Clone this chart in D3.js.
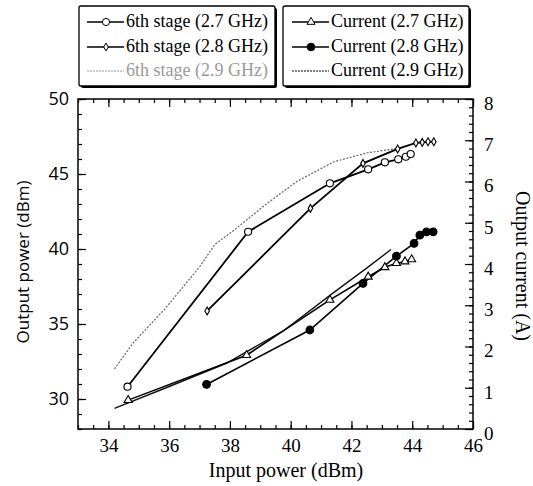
<!DOCTYPE html>
<html>
<head>
<meta charset="utf-8">
<script src="https://cdn.jsdelivr.net/npm/d3@7"></script>
<style>
  body { margin: 0; background: #fff; }
  svg { display: block; }
  text { font-family: "Liberation Serif", "Times New Roman", serif; }
</style>
</head>
<body>
<svg id="chart" width="533" height="486"></svg>
<script>
// DATA
// 6th stage output power (dBm) vs input power (dBm)
var stage27 = [[34.63, 30.82], [38.6, 41.15], [41.29, 44.38], [42.55, 45.31], [43.1, 45.78], [43.54, 45.98], [43.79, 46.15], [43.95, 46.33]];
var stage28 = [[37.25, 35.87], [40.65, 42.71], [42.38, 45.71], [43.52, 46.67], [44.12, 47.07], [44.33, 47.11], [44.52, 47.15], [44.71, 47.15]];
var stage29 = [[34.2, 32.0], [34.8, 33.7], [35.9, 36.1], [37.0, 38.8], [37.5, 40.3], [38.1, 41.2], [39.2, 43.0], [40.2, 44.5], [41.4, 45.8], [42.5, 46.4], [43.5, 46.7]];
// output current (A) vs input power (dBm)
var current27 = [[34.65, 0.70], [38.55, 1.79], [41.29, 3.13], [42.55, 3.69], [43.1, 3.92], [43.48, 4.02], [43.76, 4.06], [43.98, 4.11]];
var current28 = [[37.23, 1.08], [40.63, 2.40], [42.38, 3.53], [43.48, 4.19], [44.06, 4.50], [44.25, 4.70], [44.47, 4.78], [44.69, 4.78]];
var current29 = [[34.2, 0.5], [35.9, 1.0], [37.9, 1.6], [39.8, 2.4], [41.4, 3.3], [42.5, 3.9], [43.3, 4.35]];

// tick labels
var xTicks = [34, 36, 38, 40, 42, 44, 46];
var yLeftTicks = [30, 35, 40, 45, 50];
var yRightTicks = [0, 1, 2, 3, 4, 5, 6, 7, 8];

var legendLeft = ['6th stage (2.7 GHz)', '6th stage (2.8 GHz)', '6th stage (2.9 GHz)'];
var legendRight = ['Current (2.7 GHz)', 'Current (2.8 GHz)', 'Current (2.9 GHz)'];

var svg = d3.select('#chart');

// plot frame (don't call it "top", window.top is read only)
var plotL = 78, plotR = 473, plotT = 99, plotB = 429;

var x = d3.scaleLinear().domain([33, 46]).range([plotL, plotR]);
var yL = d3.scaleLinear().domain([28, 50]).range([plotB, plotT]);
var yR = d3.scaleLinear().domain([0, 8]).range([plotB, plotT]);

// minor ticks
var xMinor = d3.range(33, 46.01, 0.5);
var yLMinor = d3.range(28, 50.01, 1);
var yRMinor = d3.range(0, 8.01, 0.2);

var axes = svg.append('g').attr('class', 'axes');

function styleAxis(g) {
    g.select('.domain').remove();
    g.selectAll('line').attr('stroke', '#000').attr('stroke-width', 1.2);
    g.selectAll('text').attr('fill', '#000');
}

// bottom
axes.append('g').attr('transform', 'translate(0,' + plotB + ')')
    .call(d3.axisBottom(x).tickValues(xMinor).tickSize(-4).tickFormat(''))
    .call(styleAxis);
axes.append('g').attr('transform', 'translate(0,' + plotB + ')')
    .call(d3.axisBottom(x).tickValues(xTicks).tickSize(-8).tickPadding(10).tickFormat(d3.format('d')))
    .call(styleAxis)
    .selectAll('text').style('font-size', '19px').style('font-family', '"Liberation Serif", serif');
// top
axes.append('g').attr('transform', 'translate(0,' + plotT + ')')
    .call(d3.axisTop(x).tickValues(xMinor).tickSize(-4).tickFormat(''))
    .call(styleAxis);
axes.append('g').attr('transform', 'translate(0,' + plotT + ')')
    .call(d3.axisTop(x).tickValues(xTicks).tickSize(-8).tickFormat(''))
    .call(styleAxis);
// left
axes.append('g').attr('transform', 'translate(' + plotL + ',0)')
    .call(d3.axisLeft(yL).tickValues(yLMinor).tickSize(-4).tickFormat(''))
    .call(styleAxis);
axes.append('g').attr('transform', 'translate(' + plotL + ',0)')
    .call(d3.axisLeft(yL).tickValues(yLeftTicks).tickSize(-8).tickPadding(9).tickFormat(d3.format('d')))
    .call(styleAxis)
    .selectAll('text').style('font-size', '18px').style('font-family', '"Open Sans", sans-serif');
// right
axes.append('g').attr('transform', 'translate(' + plotR + ',0)')
    .call(d3.axisRight(yR).tickValues(yRMinor).tickSize(-4).tickFormat(''))
    .call(styleAxis);
axes.append('g').attr('transform', 'translate(' + plotR + ',0)')
    .call(d3.axisRight(yR).tickValues(yRightTicks).tickSize(-8).tickPadding(11).tickFormat(d3.format('d')))
    .call(styleAxis)
    .selectAll('text').style('font-size', '19px').attr('dy', '0.55em');

// frame
svg.append('rect')
    .attr('x', plotL).attr('y', plotT)
    .attr('width', plotR - plotL).attr('height', plotB - plotT)
    .attr('fill', 'none').attr('stroke', '#000').attr('stroke-width', 1.5);

// axis titles
svg.append('text').attr('x', 286).attr('y', 477)
    .attr('text-anchor', 'middle').style('font-size', '20px')
    .text('Input power (dBm)');
svg.append('text').attr('transform', 'translate(29,262) rotate(-90)')
    .attr('text-anchor', 'middle').style('font-size', '17px')
    .style('font-family', '"Open Sans", sans-serif')
    .text('Output power (dBm)');
svg.append('text').attr('transform', 'translate(516,266) rotate(90)')
    .attr('text-anchor', 'middle').style('font-size', '20px')
    .text('Output current (A)');

// LINES
var lineL = d3.line().x(function(d){ return x(d[0]); }).y(function(d){ return yL(d[1]); });
var lineR = d3.line().x(function(d){ return x(d[0]); }).y(function(d){ return yR(d[1]); });

var plot = svg.append('g');

plot.append('path').datum(stage29).attr('d', lineL)
    .attr('fill', 'none').attr('stroke', '#666').attr('stroke-width', 1.2).attr('stroke-dasharray', '2,1.5');
plot.append('path').datum(current29).attr('d', lineR)
    .attr('fill', 'none').attr('stroke', '#111').attr('stroke-width', 1.4);
plot.append('path').datum(stage27).attr('d', lineL)
    .attr('fill', 'none').attr('stroke', '#000').attr('stroke-width', 1.8);
plot.append('path').datum(stage28).attr('d', lineL)
    .attr('fill', 'none').attr('stroke', '#000').attr('stroke-width', 1.8);
plot.append('path').datum(current27).attr('d', lineR)
    .attr('fill', 'none').attr('stroke', '#000').attr('stroke-width', 1.6);
plot.append('path').datum(current28).attr('d', lineR)
    .attr('fill', 'none').attr('stroke', '#000').attr('stroke-width', 1.6);

// MARKERS
var circleSym = d3.symbol().type(d3.symbolCircle).size(40);
var diamondSym = d3.symbol().type(d3.symbolDiamond).size(18);
var triangleSym = d3.symbol().type(d3.symbolTriangle).size(28);
var dotSym = d3.symbol().type(d3.symbolCircle).size(46);

function drawMarkers(data, scaleY, sym, filled) {
    plot.append('g').selectAll('path').data(data).enter().append('path')
        .attr('transform', function(d){ return 'translate(' + x(d[0]) + ',' + scaleY(d[1]) + ')'; })
        .attr('d', sym)
        .attr('fill', filled ? '#000' : '#fff')
        .attr('stroke', '#000').attr('stroke-width', 1.1);
}

drawMarkers(stage27, yL, circleSym, false);
drawMarkers(stage28, yL, diamondSym, false);
drawMarkers(current27, yR, triangleSym, false);
drawMarkers(current28, yR, dotSym, true);

// LEGENDS
function legendBox(bx, by, bw, bh) {
    svg.append('rect').attr('x', bx + 2).attr('y', by + 2).attr('width', bw).attr('height', bh)
        .attr('rx', 2).attr('fill', '#000');
    svg.append('rect').attr('x', bx).attr('y', by).attr('width', bw).attr('height', bh)
        .attr('rx', 2).attr('fill', '#fff').attr('stroke', '#000').attr('stroke-width', 1.3);
}

legendBox(79, 6, 196, 80);
legendBox(283, 6, 186, 80);

var rowY = [22, 47, 71];

function legendRow(x0, ry, label, sym, filled, dash, color) {
    svg.append('line').attr('x1', x0).attr('x2', x0 + 37).attr('y1', ry).attr('y2', ry)
        .attr('stroke', color).attr('stroke-width', dash ? 1 : 1.3)
        .attr('stroke-dasharray', dash ? '2,1' : null);
    if (sym) {
        svg.append('path').attr('transform', 'translate(' + (x0 + 19) + ',' + ry + ')')
            .attr('d', sym).attr('fill', filled ? '#000' : '#fff')
            .attr('stroke', '#000').attr('stroke-width', 1);
    }
    svg.append('text').attr('x', x0 + 39).attr('y', ry + 5)
        .style('font-size', '18px').attr('fill', color).text(label);
}

legendRow(87, rowY[0], legendLeft[0], circleSym, false, false, '#000');
legendRow(87, rowY[1], legendLeft[1], diamondSym, false, false, '#000');
legendRow(87, rowY[2], legendLeft[2], null, false, true, '#999');
legendRow(292, rowY[0], legendRight[0], triangleSym, false, false, '#000');
legendRow(292, rowY[1], legendRight[1], dotSym, true, false, '#000');
legendRow(292, rowY[2], legendRight[2], null, false, true, '#000');
</script>
</body>
</html>
